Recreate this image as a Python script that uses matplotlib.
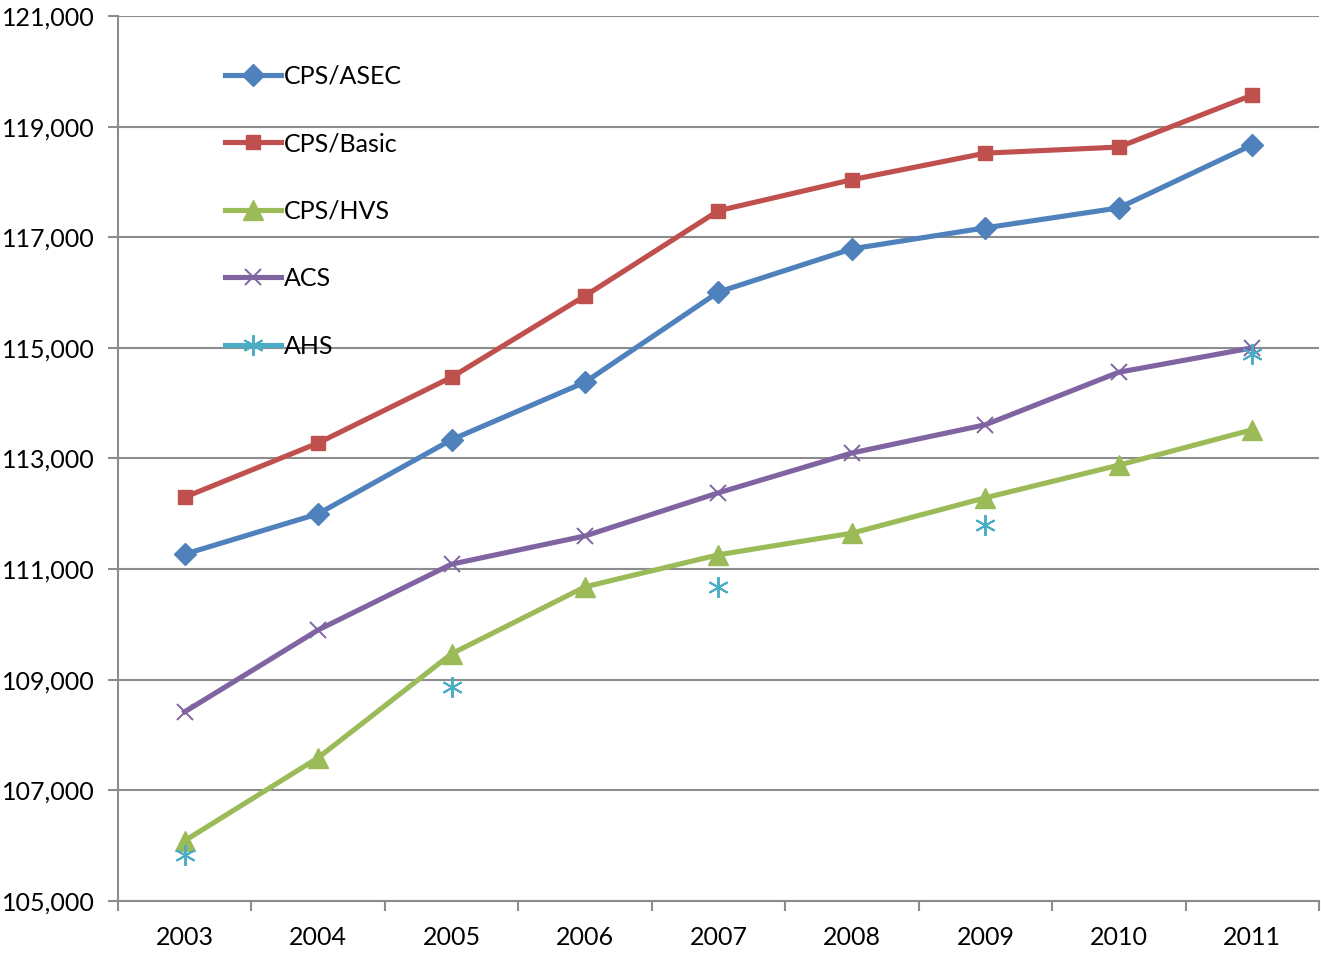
import matplotlib

matplotlib.use("Agg")
import matplotlib.pyplot as plt  # noqa: E402
import numpy as np  # noqa: E402

plt.rcParams["font.family"] = ["Lato", "DejaVu Sans"]

years = ["2003", "2004", "2005", "2006", "2007", "2008", "2009", "2010", "2011"]
cps_asec = [111270, 112000, 113340, 114380, 116010, 116790, 117170, 117530, 118670]
cps_basic = [112300, 113280, 114470, 115940, 117480, 118040, 118520, 118630, 119570]
cps_hvs = [106090, 107590, 109470, 110680, 111260, 111650, 112290, 112880, 113520]
acs = [108420, 109900, 111090, 111600, 112380, 113100, 113610, 114560, 115000]
ahs = [105830, np.nan, 108870, np.nan, 110680, np.nan, 111800, np.nan, 114890]

yticks = [105000, 107000, 109000, 111000, 113000, 115000, 117000, 119000, 121000]

GRID = "#8c8c8c"

fig = plt.figure(figsize=(13.21, 9.56), dpi=100)
ax = fig.add_axes([0.0893, 0.0575, 0.9092, 0.9258])
x = np.arange(len(years))

ax.plot(x, cps_asec, color="#4F81BD", lw=3.7, marker="D", ms=11, label="CPS/ASEC")
ax.plot(x, cps_basic, color="#C0504D", lw=3.7, marker="s", ms=10, label="CPS/Basic")
ax.plot(x, cps_hvs, color="#9BBB59", lw=3.7, marker="^", ms=14, label="CPS/HVS")
ax.plot(x, acs, color="#8064A2", lw=3.7, marker="x", ms=12, mew=1.4, label="ACS")
ax.plot(x, ahs, color="#4BACC6", lw=3.7, marker=(6, 2, 0), ms=15, mew=1.4, label="AHS")

ax.set_xlim(-0.5, len(years) - 0.5)
ax.set_ylim(105000, 121000)
ax.set_yticks(yticks)
ax.set_yticklabels([f"{v:,}" for v in yticks])
ax.set_xticks(x)
ax.set_xticklabels(years)
ax.set_xticks(np.arange(-0.5, len(years)), minor=True)
ax.tick_params(axis="x", which="major", length=0, pad=18, labelsize=18)
ax.tick_params(axis="x", which="minor", length=7, width=1.5, color=GRID)
ax.tick_params(axis="y", length=7, width=1.5, color=GRID, labelsize=18, pad=10)

ax.grid(axis="y", color=GRID, lw=1.5)
ax.set_axisbelow(True)
for s in ["top", "right"]:
    ax.spines[s].set_visible(False)
for s in ["left", "bottom"]:
    ax.spines[s].set_color(GRID)
    ax.spines[s].set_linewidth(1.5)

ax.legend(loc="upper left", bbox_to_anchor=(0.089, 0.945), frameon=False,
          fontsize=18, handlelength=2.25, handletextpad=0.1, labelspacing=1.78,
          borderpad=0, borderaxespad=0)

fig.savefig("out.png", dpi=100)
